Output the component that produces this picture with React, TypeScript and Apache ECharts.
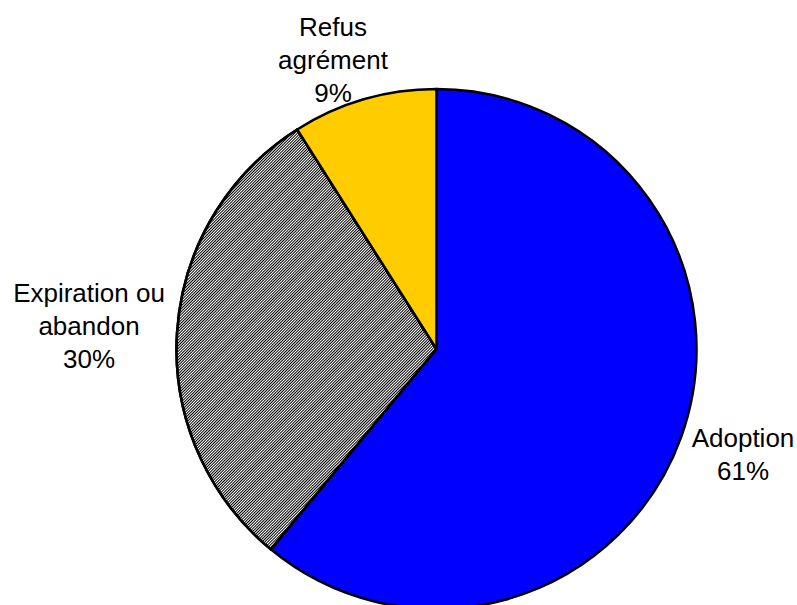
import React, { useEffect, useRef } from "react";
import * as echarts from "echarts";

const categories = ["Adoption", "Expiration ou\nabandon", "Refus\nagrément"];
const values = [61, 30, 9];
const colors = ["#0000FF", "#FFFFFF", "#FFCC00"];
// label centre positions (relative to chart) for Excel-like placement
const labelCenters: [number, number][] = [
  [743, 454],
  [89, 326],
  [333, 60],
];

export default function App() {
  const ref = useRef<HTMLDivElement>(null);
  useEffect(() => {
    if (!ref.current) return;
    const chart = echarts.init(ref.current, undefined, { renderer: "svg" });
    chart.setOption({
      animation: false,
      backgroundColor: "#ffffff",
      series: [
        {
          type: "pie",
          center: [436.5, 349],
          radius: [0, 260],
          startAngle: 90,
          clockwise: true,
          avoidLabelOverlap: false,
          data: categories.map((name, i) => ({
            name,
            value: values[i],
            itemStyle: {
              color: colors[i],
              borderColor: "#000",
              borderWidth: 2.5,
              ...(i === 1
                ? {
                    decal: {
                      symbol: "rect",
                      symbolSize: 1,
                      dashArrayX: [[1, 0]],
                      dashArrayY: [1, 1],
                      rotation: -Math.PI / 4,
                      color: "#000000",
                      backgroundColor: "#ffffff",
                    },
                  }
                : {}),
            },
          })),
          label: {
            show: true,
            position: "outside",
            formatter: (p: any) => `${p.name}\n${p.value}%`,
            fontFamily: "Liberation Sans, Arial, sans-serif",
            fontSize: 26,
            lineHeight: 33,
            color: "#000",
            align: "center",
          },
          labelLine: { show: false },
          labelLayout: (p: any) => {
            const c = labelCenters[p.dataIndex];
            return {
              x: c[0],
              y: c[1],
              align: "center",
              verticalAlign: "middle",
            };
          },
          emphasis: { disabled: true },
        },
      ],
    });
    return () => chart.dispose();
  }, []);
  return (
    <div
      ref={ref}
      style={{ position: "fixed", left: 0, top: 0, width: 797, height: 605 }}
    />
  );
}
